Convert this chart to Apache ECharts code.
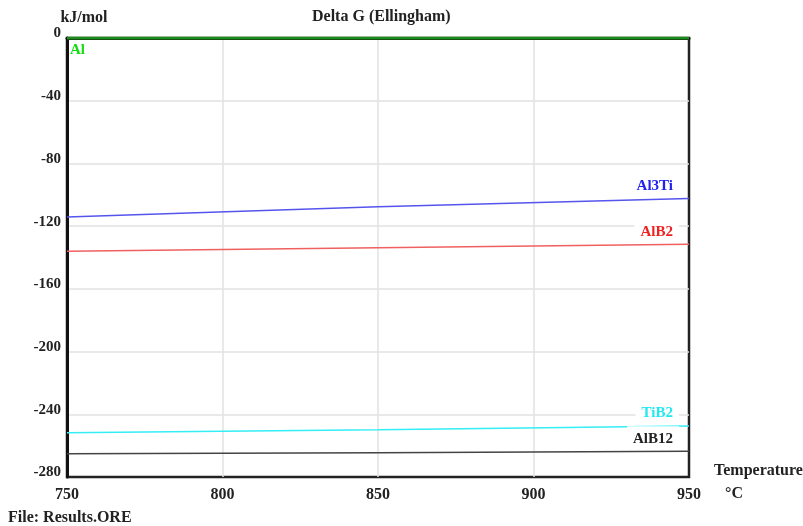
<!DOCTYPE html>
<html>
<head>
<meta charset="utf-8">
<script src="https://cdn.jsdelivr.net/npm/echarts@6/dist/echarts.min.js"></script>
<style>
  html, body { margin: 0; padding: 0; background: #fff; }
  #chart { width: 803px; height: 526px; }
</style>
</head>
<body>
<div id="chart"></div>
<script>
// temperatures (°C) and Delta G values (kJ/mol)
const temps = [750, 850, 950];
const al = [0, 0, 0];
const al3ti = [-114.1, -107.7, -102.3];
const alb2 = [-136.0, -133.8, -131.5];
const tib2 = [-251.7, -249.8, -247.5];
const alb12 = [-265.1, -264.5, -263.6];

const xTicks = [750, 800, 850, 900, 950];
const yTicks = [0, -40, -80, -120, -160, -200, -240, -280];

const font = "Liberation Serif";

function pairs(ys) {
  return temps.map((t, i) => [t, ys[i]]);
}

// label sits at the right end of the line, just above it
// (white box behind the name, empty gap before the frame)
function endLabelData(ys, name, color) {
  const d = pairs(ys);
  const last = d.length - 1;
  d[last] = {
    value: d[last],
    label: {
      show: true,
      formatter: "{t|" + name + "}{g|}",
      position: "top",
      align: "right",
      distance: 4,
      rich: {
        t: {
          color: color,
          fontFamily: font,
          fontWeight: "bold",
          fontSize: 15,
          backgroundColor: "#fff",
          padding: [5, 6, 1, 6],
        },
        g: { width: 10 },
      },
    },
  };
  return d;
}

function lineSeries(name, data, color, width) {
  return {
    name: name,
    type: "line",
    data: data,
    symbol: "circle",
    symbolSize: 0,
    showAllSymbol: true,
    silent: true,
    animation: false,
    lineStyle: { color: color, width: width || 1.5 },
    labelLayout: { hideOverlap: false },
  };
}

const alData = pairs(al);
alData[0] = {
  value: alData[0],
  label: {
    show: true,
    formatter: "{g|}{t|Al}",
    position: "bottom",
    align: "left",
    rich: {
      g: { width: 3 },
      t: { color: "#11dd11", fontFamily: font, fontWeight: "bold", fontSize: 15 },
    },
  },
};

const chart = echarts.init(document.getElementById("chart"));
chart.setOption({
  backgroundColor: "#fff",
  animation: false,
  title: {
    text: "Delta G (Ellingham)",
    left: 307,
    top: 4,
    textStyle: { fontFamily: font, fontWeight: "bold", fontSize: 16, color: "#222" },
  },
  grid: {
    left: 67,
    right: 114,
    top: 38,
    bottom: 49,
    show: true,
    borderColor: "#222",
    borderWidth: 2.5,
  },
  xAxis: {
    type: "value",
    min: 750,
    max: 950,
    interval: 50,
    axisLine: { show: true, lineStyle: { color: "#111", width: 3 } },
    axisTick: { show: false },
    splitLine: {
      show: true,
      showMinLine: false,
      showMaxLine: false,
      lineStyle: { color: "#e2e2e2", width: 1.5 },
    },
    axisLabel: {
      color: "#222",
      fontFamily: font,
      fontWeight: "bold",
      fontSize: 16,
      margin: 10,
      formatter: (v) => (xTicks.includes(v) ? String(v) : ""),
    },
  },
  yAxis: {
    type: "value",
    min: -280,
    max: 0,
    interval: 40,
    name: "kJ/mol",
    nameLocation: "end",
    nameGap: 12,
    nameTextStyle: {
      color: "#222",
      fontFamily: font,
      fontWeight: "bold",
      fontSize: 16,
      align: "center",
      padding: [0, 0, 0, 34],
    },
    axisLine: { show: true, lineStyle: { color: "#111", width: 3 } },
    axisTick: { show: false },
    splitLine: {
      show: true,
      showMinLine: false,
      showMaxLine: false,
      lineStyle: { color: "#e2e2e2", width: 1.5 },
    },
    axisLabel: {
      color: "#222",
      fontFamily: font,
      fontWeight: "bold",
      fontSize: 15,
      margin: 6,
      verticalAlign: "bottom",
      lineHeight: 9,
      formatter: (v) => (yTicks.includes(v) ? String(v) : ""),
    },
  },
  graphic: [
    {
      type: "text",
      left: 714,
      top: 463,
      style: { text: "Temperature", fill: "#222", font: "bold 16px " + font },
    },
    {
      type: "text",
      left: 725,
      top: 486,
      style: { text: "°C", fill: "#222", font: "bold 16px " + font },
    },
    {
      type: "text",
      left: 8,
      top: 510,
      style: { text: "File: Results.ORE", fill: "#222", font: "bold 16px " + font },
    },
  ],
  series: [
    lineSeries("Al3Ti", endLabelData(al3ti, "Al3Ti", "#2222ee"), "#5555ee"),
    lineSeries("AlB2", endLabelData(alb2, "AlB2", "#ee2222"), "#f06060"),
    lineSeries("TiB2", endLabelData(tib2, "TiB2", "#22e8f0"), "#33eef4"),
    lineSeries("AlB12", endLabelData(alb12, "AlB12", "#222"), "#444"),
    lineSeries("Al", alData, "#1c8c1c", 3),
  ],
});
</script>
</body>
</html>
